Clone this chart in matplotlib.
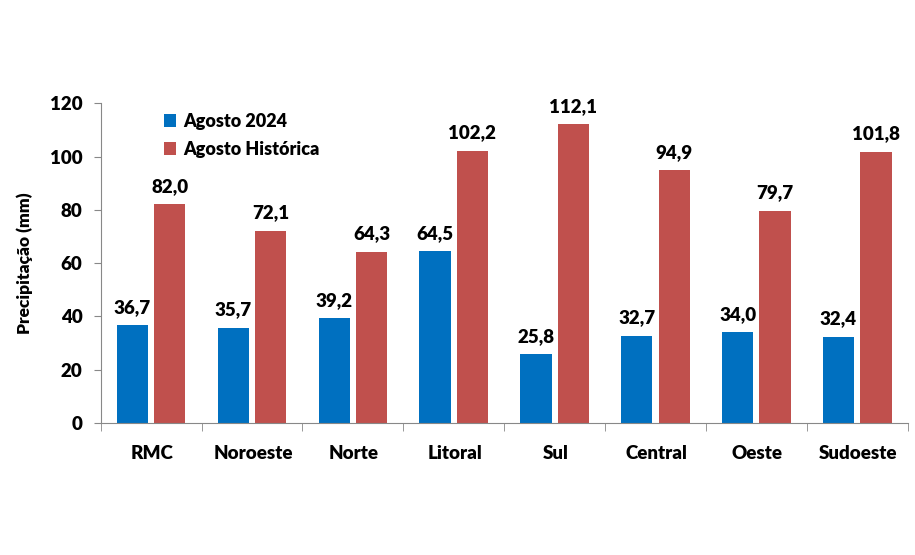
import matplotlib
matplotlib.use('Agg')
import matplotlib.pyplot as plt
import numpy as np

plt.rcParams['font.family'] = ['Lato', 'DejaVu Sans']
plt.rcParams['font.weight'] = 'heavy'

regioes = ['RMC', 'Noroeste', 'Norte', 'Litoral', 'Sul', 'Central', 'Oeste', 'Sudoeste']
agosto_2024 = [36.7, 35.7, 39.2, 64.5, 25.8, 32.7, 34.0, 32.4]
agosto_hist = [82.0, 72.1, 64.3, 102.2, 112.1, 94.9, 79.7, 101.8]

cor_2024 = '#0070C0'
cor_hist = '#C0504D'

fig = plt.figure(figsize=(9.15, 5.55), dpi=100)
ax = fig.add_axes([0.110, 0.238, 0.882, 0.576])

x = np.arange(len(regioes))
w = 0.31
off = 0.185
b1 = ax.bar(x - off, agosto_2024, w, color=cor_2024, label='Agosto 2024')
b2 = ax.bar(x + off, agosto_hist, w, color=cor_hist, label='Agosto Histórica')

def fmt(v):
    return ('%.1f' % v).replace('.', ',')

for bars, vals in ((b1, agosto_2024), (b2, agosto_hist)):
    for b, v in zip(bars, vals):
        ax.text(b.get_x() + b.get_width() / 2, v + 3.5, fmt(v),
                ha='center', va='bottom', fontsize=13.5, fontweight='heavy')

ax.set_xlim(-0.5, len(regioes) - 0.5)
ax.set_ylim(0, 120)
ax.set_yticks(range(0, 121, 20))
ax.tick_params(axis='y', labelsize=13.5, length=5, color='#888888', pad=8)

# categorias: rotulos no centro, marcas nas divisas
ax.set_xticks(x + 0.01)
ax.set_xticklabels(regioes, fontsize=13.5, fontweight='heavy')
ax.set_xticks(np.arange(-0.5, len(regioes) + 0.5, 1), minor=True)
ax.tick_params(axis='x', which='major', length=0, pad=16)
ax.tick_params(axis='x', which='minor', length=6, color='#888888')

for s in ('top', 'right'):
    ax.spines[s].set_visible(False)
for s in ('left', 'bottom'):
    ax.spines[s].set_color('#888888')

ax.set_ylabel('Precipitação (mm)', fontsize=12.5, fontweight='heavy', labelpad=12)

ax.legend(loc='upper left', bbox_to_anchor=(0.058, 1.02), frameon=False,
          fontsize=13, handlelength=0.7, handleheight=0.7, handletextpad=0.4,
          labelspacing=0.6)

plt.savefig('out.png', dpi=100)
